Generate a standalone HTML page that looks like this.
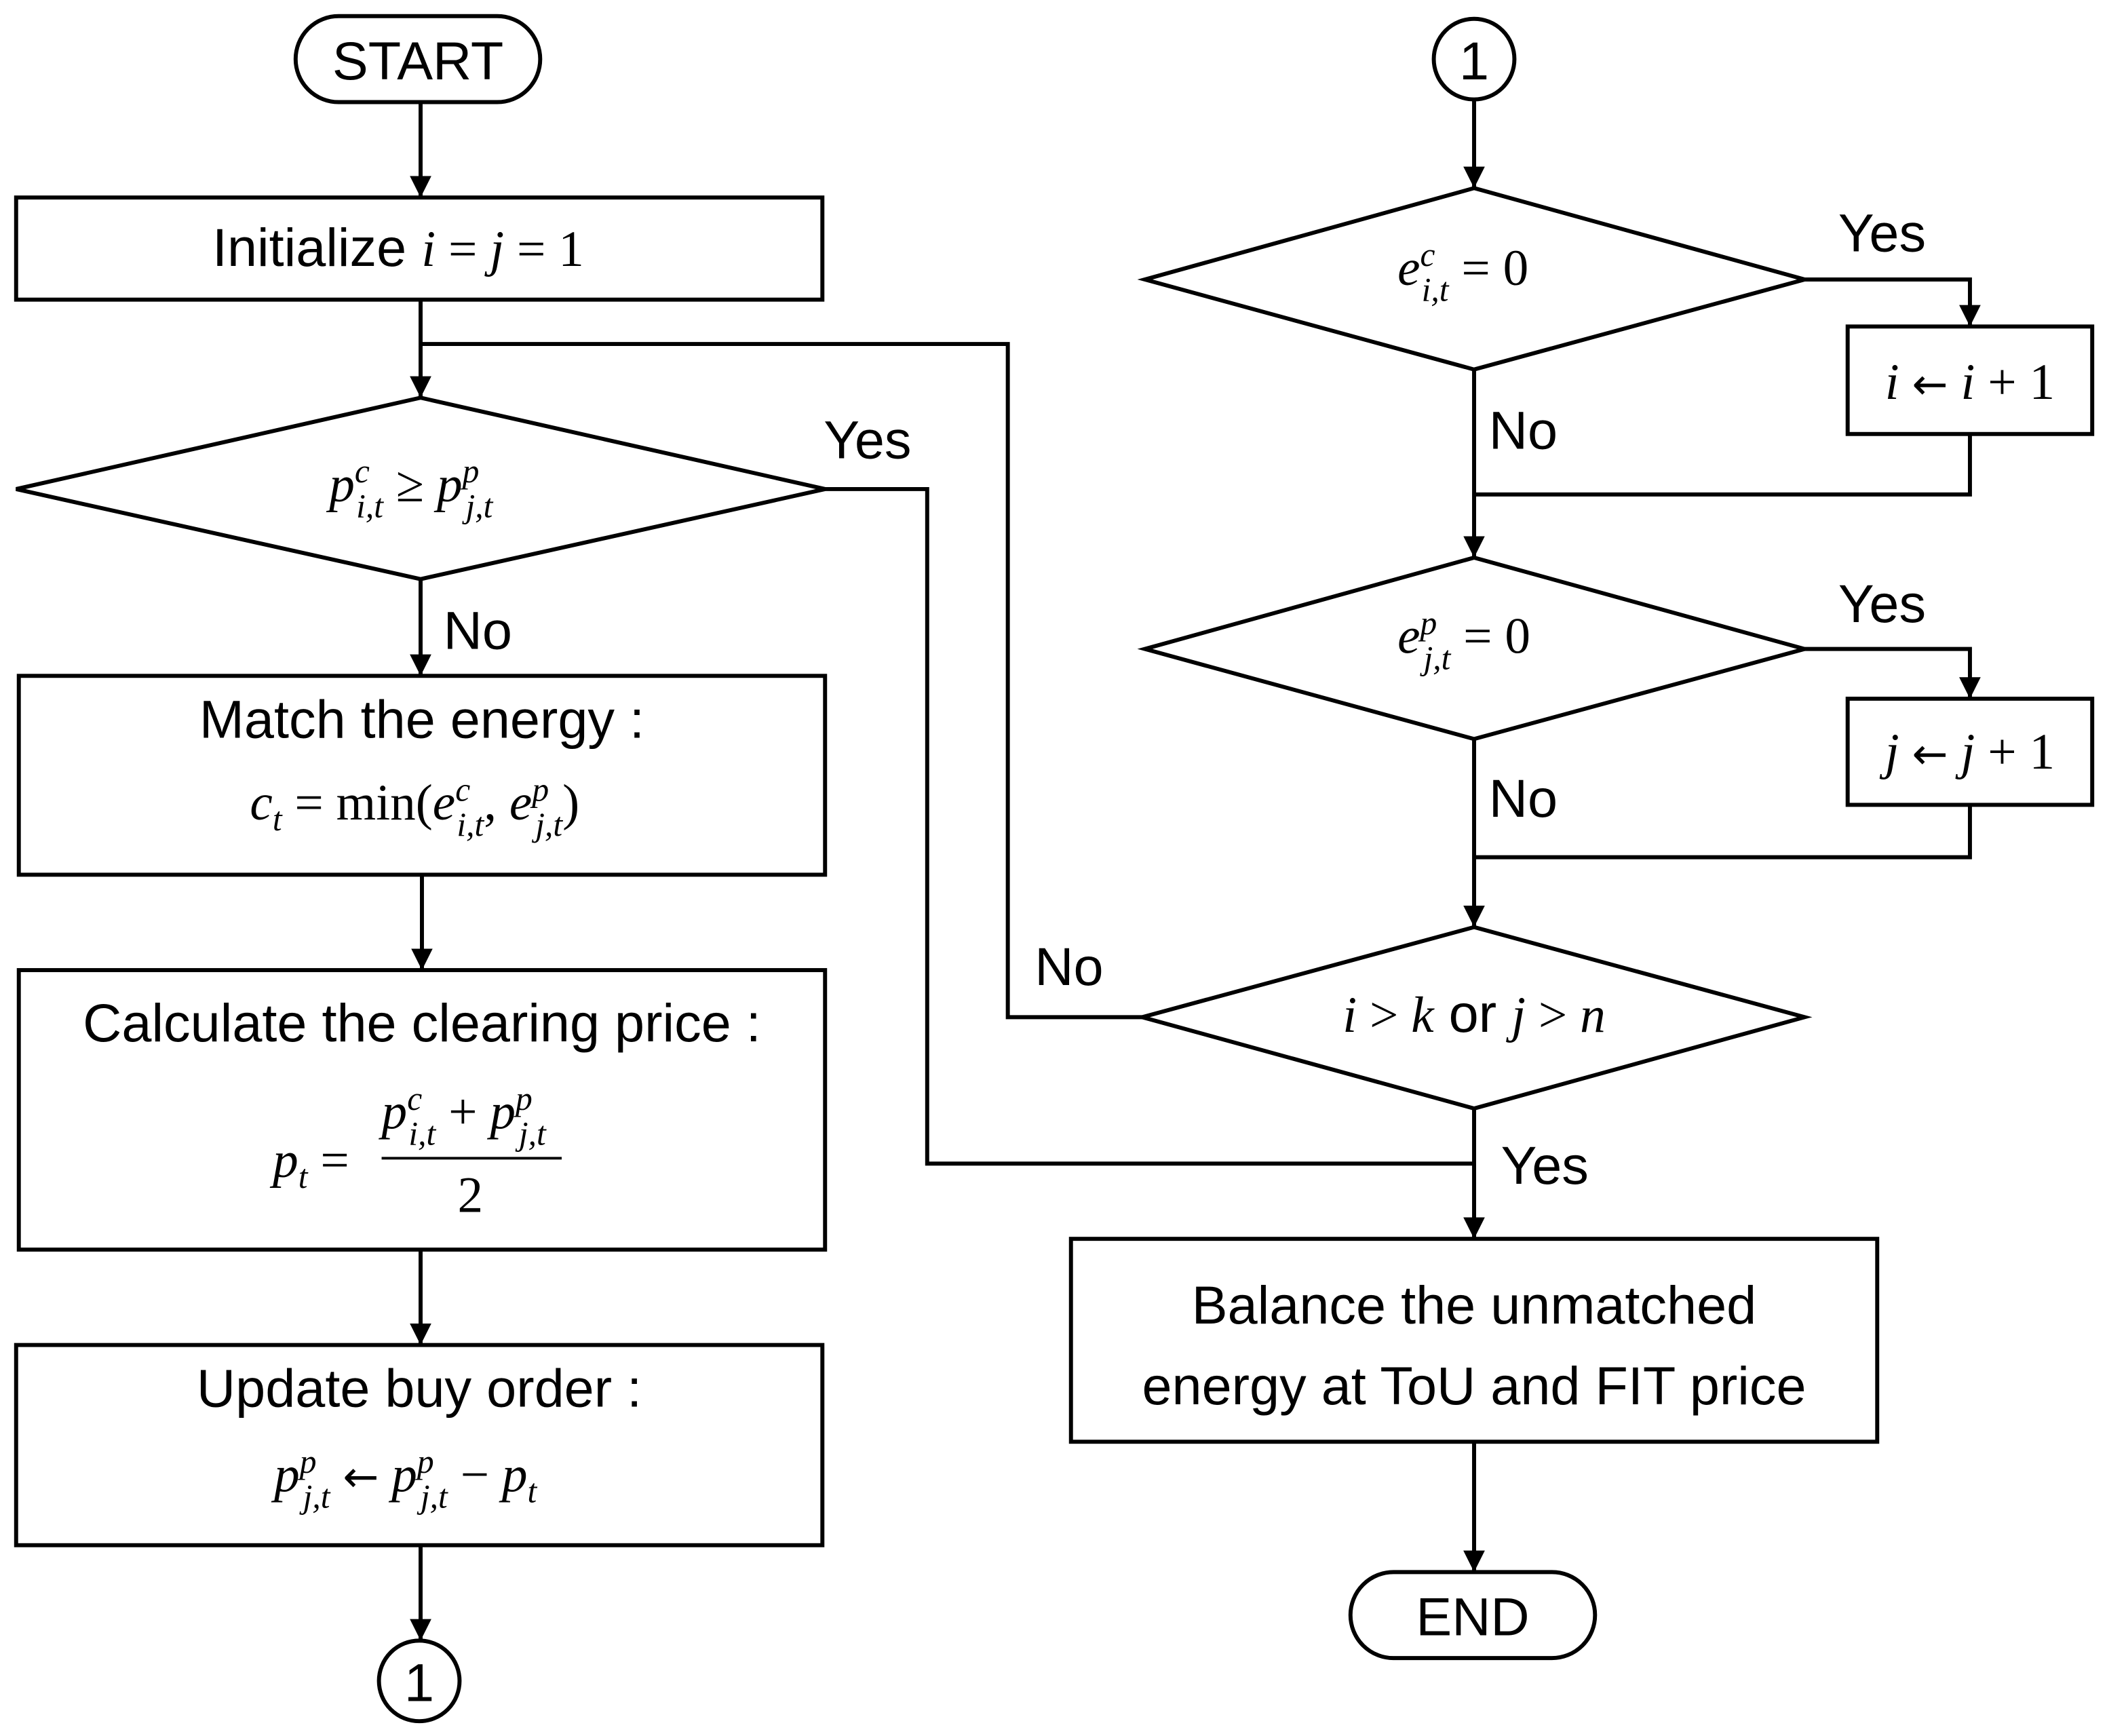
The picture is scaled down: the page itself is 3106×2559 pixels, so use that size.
<!DOCTYPE html>
<html><head><meta charset="utf-8"><style>
html,body{margin:0;padding:0;background:#fff}
svg{display:block}
.s{font-family:"Liberation Sans",sans-serif;font-size:40px;fill:#000}
.m{font-family:"Liberation Serif",serif;font-size:38px;fill:#000}
.i{font-style:italic}
.sub{font-size:25px;font-style:italic}
.ar{font-family:"DejaVu Sans",sans-serif;font-size:32px}
</style></head><body>
<svg width="3106" height="2559" viewBox="0 0 1568 1292" preserveAspectRatio="none" xmlns="http://www.w3.org/2000/svg">
<defs>
<marker id="b" markerWidth="16" markerHeight="16" refX="16" refY="8" orient="auto" markerUnits="userSpaceOnUse" viewBox="0 0 16 16"><path d="M0,0 L16,8 L0,16z" fill="#000"/></marker></defs>
<g fill="none" stroke="#000" stroke-width="3">
<rect x="220" y="12" width="182" height="64" rx="32"/>
<rect x="12" y="147" width="600" height="76"/>
<polygon points="313,296 614,364 313,431 12,364"/>
<rect x="14" y="503" width="600" height="148"/>
<rect x="14" y="722" width="600" height="208"/>
<rect x="12" y="1001" width="600" height="149"/>
<ellipse cx="312" cy="1251" rx="30" ry="30"/>
<ellipse cx="1097" cy="44" rx="30" ry="30"/>
<polygon points="1097,140 1343,208 1097,275 852,208"/>
<rect x="1375" y="243" width="182" height="80"/>
<polygon points="1097,415 1343,483 1097,550 852,483"/>
<rect x="1375" y="520" width="182" height="79"/>
<polygon points="1097,690 1343,757 1097,825 850,757"/>
<rect x="797" y="922" width="600" height="151"/>
<rect x="1005" y="1170" width="182" height="64" rx="32"/>
<g marker-end="url(#b)">
<line x1="313" y1="76" x2="313" y2="147"/>
<polyline points="313,223 313,296"/>
<line x1="313" y1="431" x2="313" y2="503"/>
<line x1="314" y1="651" x2="314" y2="722"/>
<line x1="313" y1="930" x2="313" y2="1001"/>
<line x1="313" y1="1150" x2="313" y2="1221"/>
<line x1="1097" y1="74" x2="1097" y2="140"/>
<polyline points="1343,208 1466,208 1466,243"/>
<line x1="1097" y1="275" x2="1097" y2="415"/>
<polyline points="1343,483 1466,483 1466,520"/>
<line x1="1097" y1="550" x2="1097" y2="690"/>
<line x1="1097" y1="825" x2="1097" y2="922"/>
<line x1="1097" y1="1073" x2="1097" y2="1170"/>
</g>
<polyline points="313,256 750,256 750,757 850,757"/>
<polyline points="614,364 690,364 690,866 1097,866"/>
<polyline points="1466,323 1466,368 1097,368"/>
<polyline points="1466,599 1466,638 1097,638"/>
<line x1="284" y1="862" x2="418" y2="862" stroke-width="2"/>
</g>
<text class="s" x="311" y="59" text-anchor="middle">START</text>
<text class="s" x="158" y="198">Initialize <tspan class="m i">i</tspan><tspan class="m"> = </tspan><tspan class="m i">j</tspan><tspan class="m"> = 1</tspan></text>
<text class="m" x="245" y="373"><tspan class="i">p</tspan><tspan class="sub" dy="-14">c</tspan><tspan class="sub" dx="-10" dy="26">i,t</tspan><tspan dy="-12"> ≥ </tspan><tspan class="i">p</tspan><tspan class="sub" dy="-14">p</tspan><tspan class="sub" dx="-10" dy="26">j,t</tspan></text>
<text class="s" x="613" y="341">Yes</text>
<text class="s" x="330" y="483">No</text>
<text class="s" x="314" y="549" text-anchor="middle">Match the energy :</text>
<text class="m" x="186" y="610"><tspan class="i">c</tspan><tspan class="sub" dy="8">t</tspan><tspan dy="-8"> = min(</tspan><tspan class="i">e</tspan><tspan class="sub" dy="-14">c</tspan><tspan class="sub" dx="-10" dy="26">i,t</tspan><tspan dy="-12">, </tspan><tspan class="i">e</tspan><tspan class="sub" dy="-14">p</tspan><tspan class="sub" dx="-10" dy="26">j,t</tspan><tspan dy="-12">)</tspan></text>
<text class="s" x="314" y="775" text-anchor="middle">Calculate the clearing price :</text>
<text class="m" x="203" y="876"><tspan class="i">p</tspan><tspan class="sub" dy="8">t</tspan><tspan dy="-8"> =</tspan></text>
<text class="m" x="284" y="840"><tspan class="i">p</tspan><tspan class="sub" dy="-14">c</tspan><tspan class="sub" dx="-10" dy="26">i,t</tspan><tspan dy="-12"> + </tspan><tspan class="i">p</tspan><tspan class="sub" dy="-14">p</tspan><tspan class="sub" dx="-10" dy="26">j,t</tspan></text>
<text class="m" x="350" y="902" text-anchor="middle">2</text>
<text class="s" x="312" y="1047" text-anchor="middle">Update buy order :</text>
<text class="m" x="204" y="1110"><tspan class="i">p</tspan><tspan class="sub" dy="-14">p</tspan><tspan class="sub" dx="-10" dy="26">j,t</tspan><tspan dy="-12"> </tspan><tspan class="ar">←</tspan><tspan> </tspan><tspan class="i">p</tspan><tspan class="sub" dy="-14">p</tspan><tspan class="sub" dx="-10" dy="26">j,t</tspan><tspan dy="-12"> − </tspan><tspan class="i">p</tspan><tspan class="sub" dy="8">t</tspan></text>
<text class="s" x="312" y="1266" text-anchor="middle">1</text>
<text class="s" x="1097" y="59" text-anchor="middle">1</text>
<text class="m" x="1040" y="212"><tspan class="i">e</tspan><tspan class="sub" dy="-14">c</tspan><tspan class="sub" dx="-10" dy="26">i,t</tspan><tspan dy="-12"> = 0</tspan></text>
<text class="s" x="1368" y="187">Yes</text>
<text class="m" x="1466" y="297" text-anchor="middle"><tspan class="i">i</tspan> <tspan class="ar">←</tspan> <tspan class="i">i</tspan> + 1</text>
<text class="s" x="1108" y="334">No</text>
<text class="m" x="1040" y="486"><tspan class="i">e</tspan><tspan class="sub" dy="-14">p</tspan><tspan class="sub" dx="-10" dy="26">j,t</tspan><tspan dy="-12"> = 0</tspan></text>
<text class="s" x="1368" y="463">Yes</text>
<text class="m" x="1466" y="572" text-anchor="middle"><tspan class="i">j</tspan> <tspan class="ar">←</tspan> <tspan class="i">j</tspan> + 1</text>
<text class="s" x="1108" y="608">No</text>
<text class="m" x="1097" y="768" text-anchor="middle"><tspan class="i">i</tspan> &gt; <tspan class="i">k</tspan><tspan class="s"> or </tspan><tspan class="i">j</tspan> &gt; <tspan class="i">n</tspan></text>
<text class="s" x="770" y="733">No</text>
<text class="s" x="1117" y="881">Yes</text>
<text class="s" x="1097" y="985" text-anchor="middle">Balance the unmatched</text>
<text class="s" x="1097" y="1045" text-anchor="middle">energy at ToU and FIT price</text>
<text class="s" x="1096" y="1217" text-anchor="middle">END</text>
</svg>
</body></html>
